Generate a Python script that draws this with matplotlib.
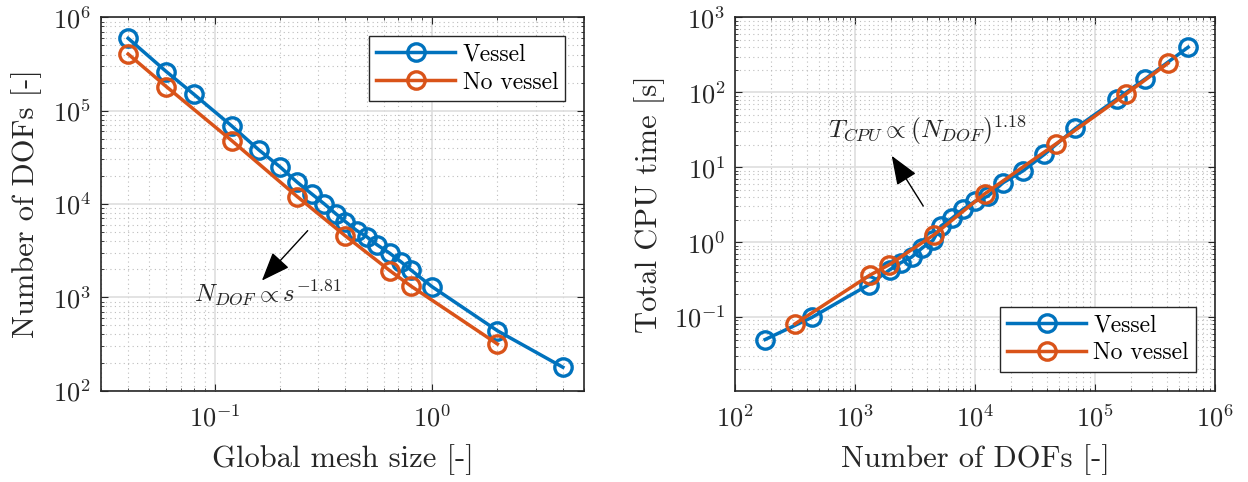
import matplotlib
matplotlib.use("Agg")
import matplotlib.pyplot as plt
from matplotlib.ticker import LogLocator, NullFormatter

plt.rcParams['font.family'] = 'serif'
plt.rcParams['font.serif'] = ['cmr10', 'DejaVu Serif']
plt.rcParams['mathtext.fontset'] = 'cm'
plt.rcParams['axes.formatter.use_mathtext'] = True
plt.rcParams['axes.unicode_minus'] = False

# mesh size vs number of DOFs
s_vessel = [0.04, 0.06, 0.08, 0.12, 0.16, 0.2, 0.24, 0.28, 0.32, 0.36, 0.40,
            0.45, 0.5, 0.56, 0.64, 0.72, 0.8, 1.0, 2.0, 4.0]
dof_vessel = [5.97e5, 2.62e5, 1.51e5, 6.85e4, 3.79e4, 2.5e4, 1.71e4, 1.28e4,
              1.0e4, 7.9e3, 6.46e3, 5.2e3, 4.47e3, 3.64e3, 2.96e3, 2.4e3,
              1.96e3, 1.3e3, 438, 178]
cpu_vessel = [400, 151, 81, 33, 14.9, 8.9, 6.2, 4.1, 3.5, 2.74, 2.1, 1.64,
              1.06, 0.84, 0.63, 0.53, 0.43, 0.27, 0.099, 0.05]

s_novessel = [0.04, 0.06, 0.12, 0.24, 0.4, 0.64, 0.8, 2.0]
dof_novessel = [4.05e5, 1.81e5, 4.77e4, 1.2e4, 4.54e3, 1.93e3, 1.32e3, 316]
cpu_novessel = [244, 95, 20.7, 4.4, 1.25, 0.5, 0.36, 0.081]

blue = '#0072BD'
orange = '#D95319'
dark = '#262626'


def style_axes(ax):
    ax.set_xscale('log')
    ax.set_yscale('log')
    ax.grid(True, which='major', color='#dedede', linewidth=1.2, linestyle='-')
    ax.grid(True, which='minor', color='#bdbdbd', linewidth=0.8, linestyle=(0, (1, 3)))
    ax.set_axisbelow(True)
    ax.tick_params(which='both', direction='in', top=True, right=True,
                   colors=dark, labelcolor=dark, labelsize=19)
    ax.tick_params(which='major', length=5, width=0.8)
    ax.tick_params(which='minor', length=2.5, width=0.6)
    ax.tick_params(axis='x', which='major', pad=10)
    ax.tick_params(axis='y', which='major', pad=7)
    for sp in ax.spines.values():
        sp.set_color(dark)
        sp.set_linewidth(1.2)
    ax.xaxis.set_minor_locator(LogLocator(base=10, subs=range(2, 10), numticks=20))
    ax.yaxis.set_minor_locator(LogLocator(base=10, subs=range(2, 10), numticks=20))
    ax.xaxis.set_minor_formatter(NullFormatter())
    ax.yaxis.set_minor_formatter(NullFormatter())


fig = plt.figure(figsize=(12.48, 4.82), dpi=100)
ax1 = fig.add_axes([0.0809, 0.1896, 0.387, 0.7743])
ax2 = fig.add_axes([0.589, 0.1896, 0.3846, 0.7743])

mk = dict(marker='o', markersize=12.5, markerfacecolor='none', markeredgewidth=2.4, linewidth=2.5)
arrow = dict(arrowstyle='-|>,head_length=0.9,head_width=0.35', color='black', lw=1.0,
             mutation_scale=20, shrinkA=0, shrinkB=0)
legkw = dict(fontsize=17, frameon=True, fancybox=False, edgecolor=dark, framealpha=1,
             handlelength=3.35, handletextpad=0.3, borderpad=0.3, labelspacing=0.25,
             borderaxespad=0)

# left panel
style_axes(ax1)
ax1.plot(s_vessel, dof_vessel, color=blue, label='Vessel', **mk)
ax1.plot(s_novessel, dof_novessel, color=orange, label='No vessel', **mk)
ax1.set_xlim(0.03, 5)
ax1.set_ylim(1e2, 1e6)
ax1.set_xticks([0.1, 1])
ax1.set_yticks([1e2, 1e3, 1e4, 1e5, 1e6])
ax1.set_xlabel('Global mesh size [-]', fontsize=22, color=dark, labelpad=9)
ax1.set_ylabel('Number of DOFs [-]', fontsize=22, color=dark, labelpad=8)
ax1.annotate('', xy=(0.165, 1.51e3), xytext=(0.268, 5.18e3), arrowprops=arrow)
ax1.text(0.176, 1.11e3, r'$N_{DOF} \propto s^{-1.81}$', fontsize=18,
         ha='center', va='center', color=dark)
leg1 = ax1.legend(loc='upper right', bbox_to_anchor=(0.961, 0.949), **legkw)
leg1.get_frame().set_linewidth(1.0)

# right panel
style_axes(ax2)
ax2.plot(dof_vessel, cpu_vessel, color=blue, label='Vessel', **mk)
ax2.plot(dof_novessel, cpu_novessel, color=orange, label='No vessel', **mk)
ax2.set_xlim(1e2, 1e6)
ax2.set_ylim(0.0104, 1e3)
ax2.set_xticks([1e2, 1e3, 1e4, 1e5, 1e6])
ax2.set_yticks([1e-1, 1e0, 1e1, 1e2, 1e3])
ax2.set_xlabel('Number of DOFs [-]', fontsize=22, color=dark, labelpad=9)
ax2.set_ylabel('Total CPU time [s]', fontsize=22, color=dark, labelpad=6)
ax2.annotate('', xy=(2.02e3, 14.2), xytext=(3.7e3, 3.03), arrowprops=arrow)
ax2.text(3.98e3, 30.8, r'$T_{CPU} \propto (N_{DOF})^{1.18}$', fontsize=18.5,
         ha='center', va='center', color=dark)
leg2 = ax2.legend(loc='lower right', bbox_to_anchor=(0.96, 0.051), **legkw)
leg2.get_frame().set_linewidth(1.0)

fig.savefig('out.png', dpi=100)
